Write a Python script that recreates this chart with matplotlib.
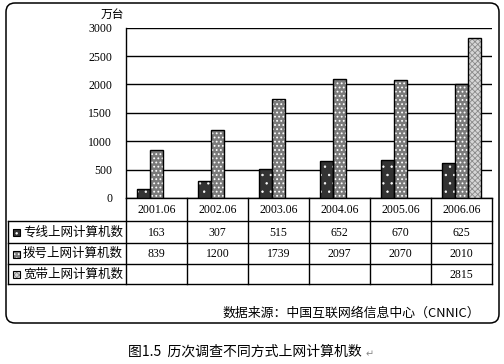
import matplotlib.pyplot as plt
import numpy as np
from matplotlib.patches import FancyBboxPatch, Rectangle

########################################
# Data
########################################
categories  = ["2001.06", "2002.06", "2003.06", "2004.06", "2005.06", "2006.06"]
series_names = ["专线上网计算机数", "拨号上网计算机数", "宽带上网计算机数"]
leased      = [163, 307, 515, 652, 670, 625]
dialup      = [839, 1200, 1739, 2097, 2070, 2010]
broadband   = [None, None, None, None, None, 2815]
y_ticks     = [0, 500, 1000, 1500, 2000, 2500, 3000]
unit_label  = "万台"
source_text = "数据来源：中国互联网络信息中心（CNNIC）"
caption     = "图1.5  历次调查不同方式上网计算机数"

########################################
# Styles
########################################
W, H        = 504, 364
CJK         = ["Noto Sans CJK SC", "DejaVu Sans"]
NUM         = ["Liberation Serif", "DejaVu Serif"]
styles      = [
    {"face": "#333333", "hatch": "..",     "hcol": "white",   "hlw": 0.5},
    {"face": "#7a7a7a", "hatch": "....",   "hcol": "white",   "hlw": 0.8},
    {"face": "#d6d6d6", "hatch": "xxxxxx", "hcol": "#8a8a8a", "hlw": 0.6},
]

fig = plt.figure(figsize=(W / 100, H / 100), dpi=100)

# background axes in pixel coordinates for frame and table
bg = fig.add_axes([0, 0, 1, 1])
bg.set_xlim(0, W)
bg.set_ylim(H, 0)
bg.axis("off")

bg.add_patch(FancyBboxPatch(
    (6, 3), 493, 320, boxstyle="round,pad=0,rounding_size=9",
    facecolor="white", edgecolor="black", linewidth=1.1))

# plot area
px_left, px_right, px_top, px_bottom = 126, 492, 27.7, 198
ax = fig.add_axes([px_left / W, 1 - px_bottom / H,
                   (px_right - px_left) / W, (px_bottom - px_top) / H])
ax.set_facecolor("none")

n   = len(categories)
x   = np.arange(n)
bw  = 13 / 61
all_series = [leased, dialup, broadband]
for k, (vals, st) in enumerate(zip(all_series, styles)):
    xs = [xi + (k - 1) * bw for xi, v in zip(x, vals) if v is not None]
    hs = [v for v in vals if v is not None]
    plt.rcParams["hatch.linewidth"] = st["hlw"]
    ax.bar(xs, hs, bw, color=st["face"], hatch=st["hatch"],
           edgecolor=st["hcol"], linewidth=0, zorder=3)
    ax.bar(xs, hs, bw, fill=False, edgecolor="black", linewidth=1, zorder=4)

ax.set_xlim(-0.5, n - 0.5)
ax.set_ylim(0, 3000)
ax.set_yticks(y_ticks)
ax.set_yticklabels([str(t) for t in y_ticks], family=NUM, fontsize=8.5)
ax.tick_params(axis="y", length=0, pad=10)
ax.set_xticks([])
ax.yaxis.grid(True, color="black", linewidth=1)
ax.set_axisbelow(True)
for side in ["top", "right", "bottom"]:
    ax.spines[side].set_visible(False)
ax.spines["left"].set_linewidth(1)

bg.text(112, 14, unit_label, family=CJK, fontsize=8.5,
        ha="center", va="center")

########################################
# Data table under the chart
########################################
col_w   = (px_right - px_left) / n
col_x   = [px_left + i * col_w for i in range(n + 1)]
row_y   = [198, 221, 243, 264, 284]
tab_left = 8
lw = 1

bg.plot([px_left, px_right], [row_y[0], row_y[0]], color="black", lw=lw)
for yy in row_y[1:]:
    bg.plot([tab_left, px_right], [yy, yy], color="black", lw=lw)
for xx in col_x:
    bg.plot([xx, xx], [row_y[0], row_y[-1]], color="black", lw=lw)
bg.plot([tab_left, tab_left], [row_y[1], row_y[-1]], color="black", lw=lw)

for i, cat in enumerate(categories):
    bg.text((col_x[i] + col_x[i + 1]) / 2, (row_y[0] + row_y[1]) / 2 + 0.5,
            cat, family=NUM, fontsize=8.5, ha="center", va="center")

for r, (name, vals, st) in enumerate(zip(series_names, all_series, styles)):
    yc = (row_y[r + 1] + row_y[r + 2]) / 2
    plt.rcParams["hatch.linewidth"] = st["hlw"]
    bg.add_patch(Rectangle((13, yc - 3), 7, 7, facecolor=st["face"],
                           hatch=st["hatch"], edgecolor=st["hcol"], lw=0))
    bg.add_patch(Rectangle((13, yc - 3), 7, 7, fill=False,
                           edgecolor="black", lw=0.8))
    bg.text(23, yc, name, family=CJK, fontsize=9, ha="left", va="center")
    for i, v in enumerate(vals):
        if v is None:
            continue
        bg.text((col_x[i] + col_x[i + 1]) / 2, yc + 0.5, str(v),
                family=NUM, fontsize=8.5, ha="center", va="center")

bg.text(480, 313, source_text, family=CJK, fontsize=9.3,
        ha="right", va="center")
bg.text(128, 352, caption, family=CJK, fontsize=10,
        ha="left", va="center")
bg.text(366, 354, "↵", family=CJK, fontsize=7, color="#888888",
        ha="left", va="center")

fig.savefig("out.png", dpi=100)
